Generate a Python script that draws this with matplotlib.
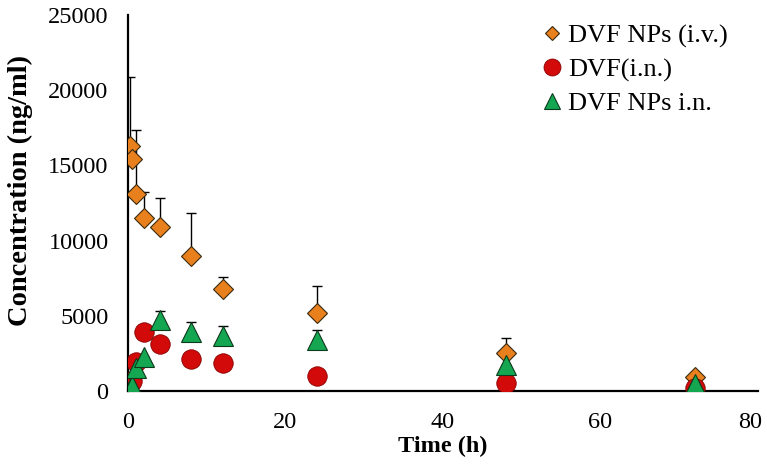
import matplotlib
matplotlib.use("Agg")
import matplotlib.pyplot as plt
from matplotlib.lines import Line2D
from matplotlib.transforms import ScaledTranslation
import numpy as np

plt.rcParams['font.family'] = ['Liberation Serif', 'DejaVu Serif']

time_iv = [0.25, 0.5, 1, 2, 4, 8, 12, 24, 48, 72]
conc_iv = [16300, 15400, 13100, 11500, 10900, 9000, 6750, 5200, 2550, 900]
err_iv = [4550, 0, 4250, 1750, 1900, 2850, 850, 1750, 1000, 0]

time_in = [0.25, 0.5, 1, 2, 4, 8, 12, 24, 48, 72]
conc_dvf = [550, 650, 1950, 3900, 3150, 2150, 1830, 1000, 520, 180]

time_np = [0.25, 0.5, 1, 2, 4, 8, 12, 24, 48, 72]
conc_np = [150, 300, 1500, 2250, 4700, 3950, 3650, 3400, 1700, 450]
err_np = [0, 0, 0, 0, 620, 650, 650, 630, 0, 0]

labels = ['DVF NPs (i.v.)', 'DVF(i.n.)', 'DVF NPs i.n.']
colors = ['#E8801E', '#D20A0A', '#14A650']
edges = ['#3a2a10', '#8a0000', '#0c3a1c']

W, H = 767, 469
fig = plt.figure(figsize=(W / 100, H / 100), dpi=100)
ax = fig.add_axes([128 / W, 1 - 391 / H, 630 / W, 376 / H])

ax.errorbar(time_iv, conc_iv, yerr=[np.zeros(len(err_iv)), err_iv], fmt='none',
            ecolor='black', elinewidth=1.0, capsize=3.5, capthick=1.0, zorder=1)
ax.errorbar(time_np, conc_np, yerr=[np.zeros(len(err_np)), err_np], fmt='none',
            ecolor='black', elinewidth=1.0, capsize=3.5, capthick=1.0, zorder=1)

ax.plot(time_iv, conc_iv, linestyle='none', marker='D', markersize=10,
        markerfacecolor=colors[0], markeredgecolor=edges[0], markeredgewidth=0.8, zorder=3)
ax.plot(time_in, conc_dvf, linestyle='none', marker='o', markersize=14,
        markerfacecolor=colors[1], markeredgecolor=edges[1], markeredgewidth=0.6, zorder=4)
ax.plot(time_np, conc_np, linestyle='none', marker='^', markersize=14.5,
        markerfacecolor=colors[2], markeredgecolor=edges[2], markeredgewidth=0.8, zorder=5)

ax.set_xlim(0, 80)
ax.set_ylim(0, 25000)
ax.set_xticks([0, 20, 40, 60, 80])
ax.set_yticks([0, 5000, 10000, 15000, 20000, 25000])
ax.tick_params(axis='both', length=0, labelsize=17.5)
ax.tick_params(axis='y', pad=14)
ax.tick_params(axis='x', pad=15)
for s in ['top', 'right']:
    ax.spines[s].set_visible(False)
for s in ['left', 'bottom']:
    ax.spines[s].set_linewidth(1.6)
    ax.spines[s].set_color('black')
ax.spines['left'].set_zorder(0.5)

# keep the last x tick label inside the figure
last = ax.get_xticklabels()[-1]
last.set_transform(last.get_transform() + ScaledTranslation(-8 / 100, 0, fig.dpi_scale_trans))

ax.set_xlabel('Time (h)', fontsize=17.5, fontweight='bold', labelpad=2)
ax.set_ylabel('Concentration (ng/ml)', fontsize=20.5, fontweight='bold')
ax.yaxis.set_label_coords((33 - 128) / 630, (391 - 190) / 376)

handles = [
    Line2D([], [], linestyle='none', marker='D', markersize=7.6, markerfacecolor=colors[0],
           markeredgecolor=edges[0], markeredgewidth=0.8),
    Line2D([], [], linestyle='none', marker='o', markersize=12.2, markerfacecolor=colors[1],
           markeredgecolor=edges[1], markeredgewidth=0.6),
    Line2D([], [], linestyle='none', marker='^', markersize=12.2, markerfacecolor=colors[2],
           markeredgecolor=edges[2], markeredgewidth=0.8),
]
fig.legend(handles, labels, loc='upper left', bbox_to_anchor=(539 / W, 1 - 24 / H),
           frameon=False, fontsize=19, handletextpad=0.1, handlelength=1.0,
           labelspacing=0.38, borderaxespad=0, borderpad=0)

fig.savefig('out.png', dpi=100)
